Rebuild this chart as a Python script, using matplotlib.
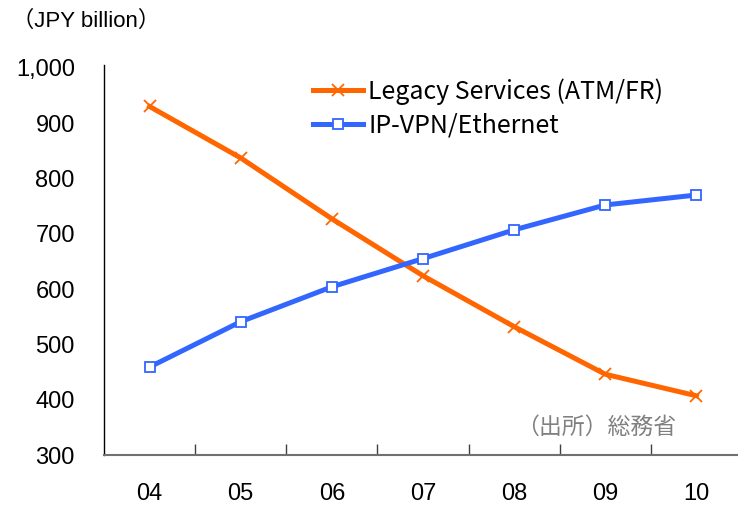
import numpy as np
import matplotlib.pyplot as plt

years = ["04", "05", "06", "07", "08", "09", "10"]
legacy = [930, 837, 727, 624, 532, 446, 407]
ipvpn = [459, 541, 604, 655, 707, 752, 770]
yticks = [300, 400, 500, 600, 700, 800, 900, 1000]
ytick_labels = ["300", "400", "500", "600", "700", "800", "900", "1,000"]

plt.rcParams['font.family'] = ['Liberation Sans', 'Noto Sans CJK JP']

fig = plt.figure(figsize=(7.38, 5.07), dpi=100)
ax = fig.add_axes([104 / 738, 52 / 507, 638 / 738, 390 / 507])

x = np.arange(len(years))
ax.plot(x, legacy, color='#ff6600', lw=3.6, marker='x', ms=9, mew=1.3,
        label='Legacy Services (ATM/FR)')
ax.plot(x, ipvpn, color='#3366ff', lw=3.6, marker='s', ms=7, mew=1.3,
        mfc='white', mec='#3366ff', label='IP-VPN/Ethernet')

ax.set_xlim(-0.5, len(years) - 0.5)
ax.set_ylim(300, 1005)
ax.set_xticks(x)
ax.set_xticklabels(years, fontsize=17)
ax.set_xticks(x[:-1] + 0.5, minor=True)
ax.tick_params(axis='x', which='major', length=0, pad=20)
ax.tick_params(axis='x', which='minor', direction='in', length=8, width=1, color='#404040')
ax.set_yticks(yticks)
ax.set_yticklabels(ytick_labels, fontsize=17)
ax.tick_params(axis='y', length=0, pad=21)

for s in ['top', 'right']:
    ax.spines[s].set_visible(False)
ax.spines['left'].set_color('black')
ax.spines['left'].set_linewidth(1)
ax.spines['bottom'].set_color('#707070')
ax.spines['bottom'].set_linewidth(1.5)

leg = ax.legend(loc='upper left', bbox_to_anchor=(0.328, 0.965), frameon=False,
                borderaxespad=0, borderpad=0,
                handlelength=2.0, handletextpad=0.2, labelspacing=0.3,
                prop={'family': ['Noto Sans CJK JP'], 'size': 18})

fig.text(12 / 738, 1 - 21 / 507, '（JPY billion）', fontsize=16, va='center', ha='left',
         family=['Liberation Sans', 'Noto Sans CJK JP'])
ax.text(5.78, 330, '（出所）総務省', fontsize=16.5, color='#808080', ha='right', va='bottom',
        family=['Noto Sans CJK JP'])

fig.savefig('out.png', dpi=100)
